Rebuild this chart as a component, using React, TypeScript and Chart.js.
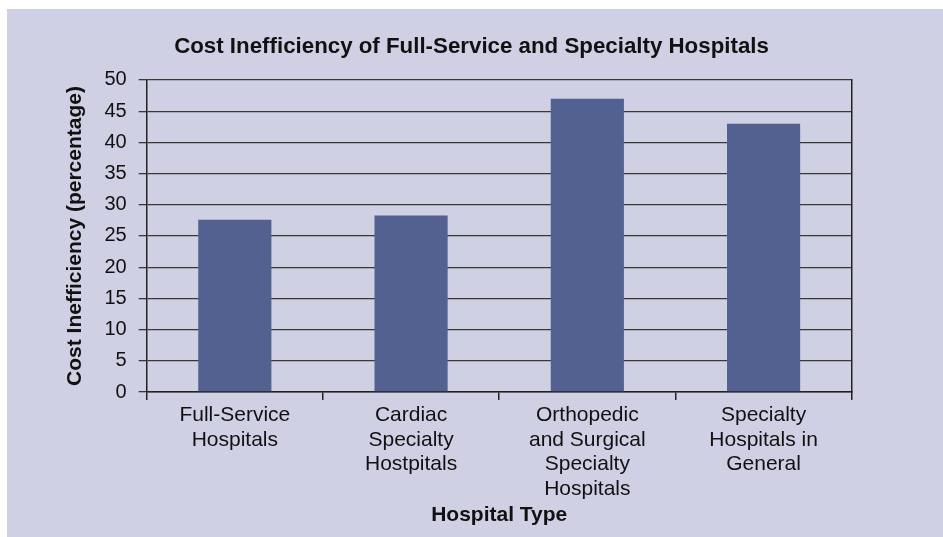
import React, { useEffect, useRef } from "react";
import { Chart, registerables } from "chart.js";

Chart.register(...registerables);

const chartTitle = "Cost Inefficiency of Full-Service and Specialty Hospitals";
const xAxisTitle = "Hospital Type";
const yAxisTitle = "Cost Inefficiency (percentage)";
const categories: string[][] = [
  ["Full-Service", "Hospitals"],
  ["Cardiac", "Specialty", "Hostpitals"],
  ["Orthopedic", "and Surgical", "Specialty", "Hospitals"],
  ["Specialty", "Hospitals in", "General"],
];
const costInefficiency: number[] = [27.6, 28.3, 47.0, 43.0];
const yMin = 0;
const yMax = 50;
const yStep = 5;

const FONT = "'Liberation Sans', Arial, Helvetica, sans-serif";
const BG = "#cfd0e3";
const BAR = "#52618f";
const GRID = "#383838";
const AXIS = "#222222";
const TEXT = "#111111";

export default function App() {
  const ref = useRef<HTMLCanvasElement | null>(null);

  useEffect(() => {
    if (!ref.current) return;
    const chart = new Chart(ref.current, {
      type: "bar",
      data: {
        labels: categories,
        datasets: [
          {
            label: "Cost Inefficiency",
            data: costInefficiency,
            backgroundColor: BAR,
            borderWidth: 0,
            barPercentage: 0.415,
            categoryPercentage: 1,
          },
        ],
      },
      options: {
        animation: false,
        responsive: false,
        layout: { padding: { top: 0, left: 0, right: 7, bottom: 0 } },
        plugins: {
          legend: { display: false },
          tooltip: { enabled: false },
          title: {
            display: true,
            text: chartTitle,
            color: TEXT,
            font: { family: FONT, size: 22.3, weight: "bold", lineHeight: 1.2 },
            padding: { top: 24.6, bottom: 19.6 },
          },
        },
        scales: {
          x: {
            type: "category",
            offset: true,
            grid: {
              offset: true,
              drawOnChartArea: false,
              drawTicks: true,
              tickLength: 8,
              tickColor: AXIS,
              tickWidth: 1.5,
              color: AXIS,
              lineWidth: 1.5,
            },
            border: { display: true, color: AXIS, width: 1.5 },
            ticks: {
              color: TEXT,
              padding: 3,
              maxRotation: 0,
              minRotation: 0,
              autoSkip: false,
              font: { family: FONT, size: 21, lineHeight: 1.17 },
            },
            title: {
              display: true,
              text: xAxisTitle,
              color: TEXT,
              font: { family: FONT, size: 21, weight: "bold", lineHeight: 1.2 },
              padding: { top: 0, bottom: 9.5 },
            },
            afterFit: (s: any) => {
              s.height = 145;
            },
          },
          y: {
            type: "linear",
            position: "left",
            min: yMin,
            max: yMax,
            grid: {
              color: GRID,
              lineWidth: 1.3,
              drawTicks: true,
              tickLength: 8,
              tickColor: GRID,
            },
            border: { display: true, color: AXIS, width: 1.5 },
            ticks: {
              stepSize: yStep,
              color: TEXT,
              padding: 12,
              font: { family: FONT, size: 20, lineHeight: 1.2 },
            },
            title: {
              display: true,
              text: yAxisTitle,
              color: TEXT,
              font: { family: FONT, size: 21, weight: "bold", lineHeight: 1.2 },
              padding: { top: 55.5, bottom: 0 },
            },
            afterFit: (s: any) => {
              s.width = 139.7;
            },
          },
          yRight: {
            type: "linear",
            position: "right",
            display: true,
            grid: { display: false, drawTicks: false },
            ticks: { display: false },
            border: { display: true, color: AXIS, width: 1.5 },
            afterFit: (s: any) => {
              s.width = 84.3;
            },
          },
        },
      },
    });
    return () => chart.destroy();
  }, []);

  return (
    <div
      style={{
        position: "fixed",
        left: 7,
        top: 9,
        width: 936,
        height: 528,
        background: BG,
      }}
    >
      <canvas ref={ref} width={936} height={528} style={{ display: "block", width: 936, height: 528 }} />
    </div>
  );
}
